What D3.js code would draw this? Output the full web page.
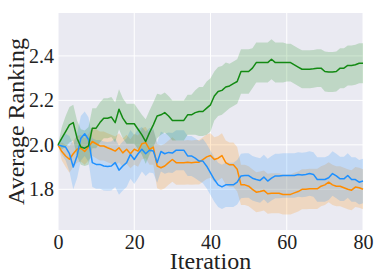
<!DOCTYPE html>
<html>
<head>
<meta charset="utf-8">
<script src="https://cdn.jsdelivr.net/npm/d3@7"></script>
<style>
  body { margin: 0; background: #fff; }
  text { font-family: "Liberation Serif", "Times New Roman", serif; fill: #222; }
</style>
</head>
<body>
<div id="chart"></div>
<script>
// Iterations 0..80
var iterations = d3.range(0, 81);

// Mean average ranking per iteration
var greenMean = [2.00, 2.03, 2.06, 2.09, 2.10, 2.03, 1.99, 1.985, 1.995, 2.075,
  2.075, 2.10, 2.12, 2.12, 2.125, 2.10, 2.16, 2.12, 2.095, 2.095,
  2.095, 2.07, 2.045, 2.015, 2.055, 2.09, 2.13, 2.135, 2.145, 2.13,
  2.11, 2.11, 2.11, 2.11, 2.135, 2.135, 2.145, 2.15, 2.15, 2.165,
  2.18, 2.22, 2.24, 2.245, 2.26, 2.265, 2.275, 2.285, 2.33, 2.33,
  2.33, 2.345, 2.37, 2.37, 2.37, 2.37, 2.385, 2.37, 2.37, 2.37,
  2.37, 2.37, 2.36, 2.35, 2.34, 2.34, 2.34, 2.342, 2.345, 2.345,
  2.33, 2.328, 2.328, 2.33, 2.345, 2.345, 2.357, 2.357, 2.36, 2.367, 2.367];

var orangeMean = [2.00, 1.97, 1.95, 1.935, 1.96, 1.98, 1.985, 1.97, 1.99, 2.015,
  2.005, 1.995, 1.995, 1.987, 1.98, 1.972, 1.987, 1.964, 1.98, 1.96,
  1.98, 1.972, 2.005, 2.01, 1.98, 1.99, 1.905, 1.897, 1.905, 1.92,
  1.934, 1.92, 1.92, 1.92, 1.922, 1.92, 1.922, 1.922, 1.934, 1.946,
  1.952, 1.934, 1.94, 1.952, 1.92, 1.91, 1.91, 1.89, 1.82, 1.82,
  1.814, 1.80, 1.787, 1.79, 1.795, 1.78, 1.782, 1.782, 1.782, 1.777,
  1.777, 1.777, 1.784, 1.79, 1.80, 1.80, 1.802, 1.802, 1.802, 1.814,
  1.82, 1.832, 1.82, 1.814, 1.814, 1.807, 1.80, 1.796, 1.81, 1.807, 1.80];

var blueMean = [2.00, 1.995, 1.99, 1.96, 1.90, 1.95, 2.03, 2.05, 2.024, 1.92,
  1.912, 1.912, 1.905, 1.903, 1.905, 1.92, 1.886, 1.905, 1.92, 1.957,
  1.934, 1.96, 1.98, 1.96, 1.976, 1.972, 1.92, 1.97, 1.96, 1.966,
  1.963, 1.976, 1.976, 1.976, 1.95, 1.95, 1.94, 1.927, 1.927, 1.904,
  1.874, 1.844, 1.82, 1.811, 1.82, 1.82, 1.82, 1.832, 1.86, 1.862,
  1.862, 1.85, 1.844, 1.84, 1.855, 1.837, 1.85, 1.86, 1.86, 1.862,
  1.862, 1.862, 1.862, 1.867, 1.864, 1.867, 1.871, 1.867, 1.844, 1.844,
  1.844, 1.852, 1.871, 1.86, 1.847, 1.847, 1.862, 1.844, 1.844, 1.832, 1.837];

// Half width of the shaded band per iteration
var greenBand = [0, 0.05, 0.07, 0.08, 0.08, 0.08, 0.08, 0.08, 0.085, 0.09,
  0.09, 0.09, 0.09, 0.09, 0.09, 0.09, 0.09, 0.09, 0.09, 0.09,
  0.09, 0.09, 0.09, 0.1, 0.1, 0.1, 0.1, 0.09, 0.09, 0.09,
  0.09, 0.09, 0.09, 0.09, 0.09, 0.09, 0.1, 0.11, 0.11, 0.12,
  0.12, 0.11, 0.11, 0.11, 0.11, 0.1, 0.1, 0.1, 0.1, 0.1,
  0.1, 0.09, 0.09, 0.09, 0.09, 0.09, 0.09, 0.09, 0.09, 0.09,
  0.085, 0.085, 0.085, 0.085, 0.085, 0.085, 0.085, 0.085, 0.085, 0.085,
  0.09, 0.09, 0.09, 0.09, 0.09, 0.09, 0.09, 0.09, 0.09, 0.09, 0.09];

var orangeBand = [0, 0.04, 0.05, 0.06, 0.06, 0.06, 0.06, 0.06, 0.06, 0.065,
  0.065, 0.065, 0.065, 0.065, 0.065, 0.065, 0.065, 0.065, 0.065, 0.065,
  0.07, 0.07, 0.07, 0.07, 0.07, 0.08, 0.1, 0.1, 0.1, 0.1,
  0.1, 0.1, 0.1, 0.1, 0.1, 0.1, 0.1, 0.1, 0.1, 0.1,
  0.1, 0.1, 0.1, 0.1, 0.1, 0.1, 0.1, 0.1, 0.09, 0.09,
  0.09, 0.09, 0.09, 0.09, 0.09, 0.09, 0.09, 0.09, 0.09, 0.09,
  0.09, 0.09, 0.09, 0.09, 0.09, 0.09, 0.09, 0.09, 0.09, 0.09,
  0.09, 0.09, 0.09, 0.09, 0.09, 0.09, 0.09, 0.09, 0.09, 0.09, 0.09];

var blueBand = [0, 0.04, 0.06, 0.08, 0.1, 0.1, 0.1, 0.1, 0.1, 0.11,
  0.11, 0.11, 0.11, 0.11, 0.11, 0.11, 0.11, 0.11, 0.11, 0.11,
  0.11, 0.11, 0.1, 0.1, 0.1, 0.1, 0.09, 0.09, 0.09, 0.09,
  0.09, 0.09, 0.09, 0.09, 0.09, 0.09, 0.09, 0.09, 0.1, 0.1,
  0.1, 0.1, 0.1, 0.1, 0.1, 0.1, 0.1, 0.1, 0.1, 0.1,
  0.1, 0.1, 0.1, 0.1, 0.1, 0.1, 0.1, 0.1, 0.1, 0.1,
  0.1, 0.1, 0.1, 0.1, 0.1, 0.1, 0.1, 0.1, 0.1, 0.1,
  0.1, 0.1, 0.1, 0.1, 0.1, 0.1, 0.1, 0.1, 0.1, 0.1, 0.1];

var xTicks = [0, 20, 40, 60, 80];
var yTicks = [1.8, 2.0, 2.2, 2.4];

var series = [
  { name: "orange", color: "#ff8c00", mean: orangeMean, band: orangeBand },
  { name: "blue", color: "#1e90ff", mean: blueMean, band: blueBand },
  { name: "green", color: "#138a13", mean: greenMean, band: greenBand }
];

// SVG area
var svgWidth = 382;
var svgHeight = 270;
var margin = { top: 13, right: 19, bottom: 40, left: 58 };
var width = svgWidth - margin.left - margin.right;
var height = svgHeight - margin.top - margin.bottom;

var svg = d3.select("#chart")
  .append("svg")
  .attr("width", svgWidth)
  .attr("height", svgHeight);

var chartGroup = svg.append("g")
  .attr("transform", `translate(${margin.left}, ${margin.top})`);

// Scales
var xScale = d3.scaleLinear()
  .domain([0, 80])
  .range([0, width]);

var yScale = d3.scaleLinear()
  .domain([1.617, 2.593])
  .range([height, 0]);

// Background + grid
chartGroup.append("rect")
  .attr("width", width)
  .attr("height", height)
  .attr("fill", "#eaeaf2");

chartGroup.append("g")
  .selectAll("line")
  .data(xTicks)
  .enter()
  .append("line")
  .attr("x1", d => xScale(d))
  .attr("x2", d => xScale(d))
  .attr("y1", 0)
  .attr("y2", height)
  .attr("stroke", "#fff")
  .attr("stroke-width", 1);

chartGroup.append("g")
  .selectAll("line")
  .data(yTicks)
  .enter()
  .append("line")
  .attr("x1", 0)
  .attr("x2", width)
  .attr("y1", d => yScale(d))
  .attr("y2", d => yScale(d))
  .attr("stroke", "#fff")
  .attr("stroke-width", 1);

// Bands
var area = d3.area()
  .x((d, i) => xScale(iterations[i]))
  .y0(d => yScale(d[0] - d[1]))
  .y1(d => yScale(d[0] + d[1]));

series.forEach(function(s) {
  var pts = s.mean.map((m, i) => [m, s.band[i]]);
  chartGroup.append("path")
    .datum(pts)
    .attr("d", area)
    .attr("fill", s.color)
    .attr("fill-opacity", 0.2);
});

// Lines
var line = d3.line()
  .x((d, i) => xScale(iterations[i]))
  .y(d => yScale(d));

series.forEach(function(s) {
  chartGroup.append("path")
    .datum(s.mean)
    .attr("d", line)
    .attr("fill", "none")
    .attr("stroke", s.color)
    .attr("stroke-width", 1.5)
    .attr("stroke-linejoin", "round");
});

// Axes (no spines, just labels)
var bottomAxis = d3.axisBottom(xScale).tickValues(xTicks).tickSize(0).tickPadding(5);
var leftAxis = d3.axisLeft(yScale).tickValues(yTicks).tickSize(0).tickPadding(4)
  .tickFormat(d3.format(".1f"));

var xAxisG = chartGroup.append("g")
  .attr("transform", `translate(0, ${height})`)
  .call(bottomAxis);
xAxisG.select(".domain").remove();
xAxisG.selectAll("text")
  .style("font-family", "'Liberation Serif', serif")
  .style("font-size", "20px")
  .attr("fill", "#222");

var yAxisG = chartGroup.append("g").call(leftAxis);
yAxisG.select(".domain").remove();
yAxisG.selectAll("text")
  .style("font-family", "'Liberation Serif', serif")
  .style("font-size", "20px")
  .attr("fill", "#222");

// Axis labels
chartGroup.append("text")
  .attr("transform", "rotate(-90)")
  .attr("x", -height / 2)
  .attr("y", -margin.left + 24)
  .attr("text-anchor", "middle")
  .style("font-size", "24px")
  .text("Average Ranking");

chartGroup.append("text")
  .attr("x", width / 2)
  .attr("y", height + 39)
  .attr("text-anchor", "middle")
  .style("font-size", "24px")
  .text("Iteration");
</script>
</body>
</html>
